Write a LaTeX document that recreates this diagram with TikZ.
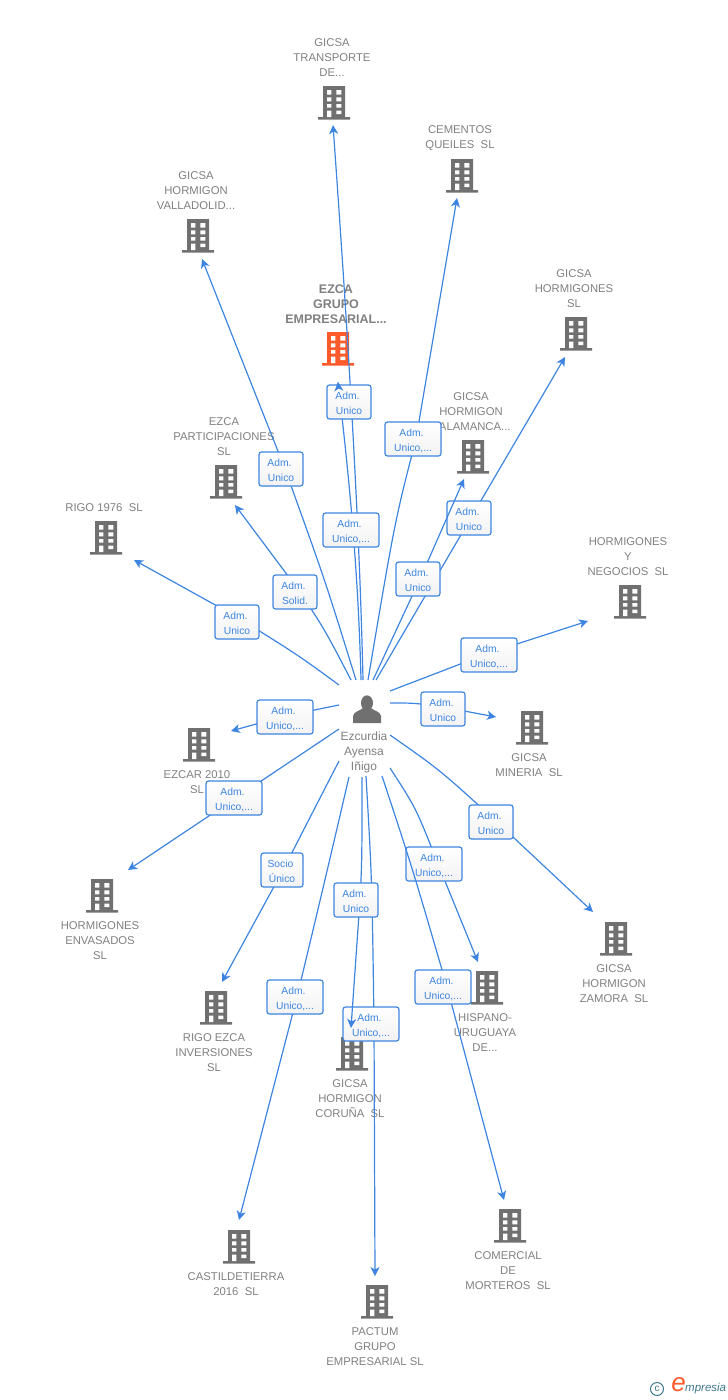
\documentclass[tikz,border=0pt]{standalone}
\usepackage{fontspec}
\setmainfont{Liberation Sans}
\usetikzlibrary{arrows.meta}
\definecolor{linkblue}{RGB}{61,133,224}
\definecolor{firmgray}{RGB}{128,128,128}
\definecolor{bldggray}{RGB}{112,112,112}
\definecolor{headorange}{RGB}{255,90,43}
\definecolor{logoteal}{RGB}{62,118,140}
\newcommand\rolelines[2]{\rule{0pt}{11pt}#1\kern3pt\\#2}
\tikzset{
  firm/.style={text=firmgray,align=center,inner sep=0pt,yshift=-1pt,font=\fontsize{11.3}{15}\selectfont},
  link/.style={linkblue,line width=1.2pt,-{Stealth[length=9pt,width=9pt,inset=2.5pt]}},
  role/.style={draw=linkblue,line width=1.2pt,rounded corners=2.5pt,top color=white,bottom color=black!5,
    text=linkblue,align=center,inner sep=0pt,minimum width=44pt,minimum height=34pt,
    font=\fontsize{10.3}{15}\selectfont},
  rolew/.style={role,minimum width=56pt},
  pics/bldg/.style={code={
    \fill[#1] (-11,-17) rectangle (11,15) (-16,14) rectangle (16,16.5);
    \fill[white] (-7,-13) rectangle (-2.7,-8.5) (2.3,-13) rectangle (7.3,-8.5)
                 (-7,-5.7) rectangle (-2.7,-1.7) (2.3,-5.7) rectangle (7.3,-1.7)
                 (-7,1) rectangle (-2.7,4.5) (2.3,1) rectangle (7.3,4.5)
                 (-7,7.5) rectangle (-2.7,14) (2.3,7.5) rectangle (7.3,11);
  }},
}
\begin{document}
\begin{tikzpicture}[x=1pt,y=-1pt]
  \useasboundingbox (0,0) rectangle (728,1400);

  % companies ------------------------------------------------------------------
  \node[firm] (transporte) at (332,57) {GICSA\\TRANSPORTE\\DE...};
  \pic at (334,103) {bldg=bldggray};
  \node[firm] (cementos) at (460,137.5) {CEMENTOS\\QUEILES\ \ SL};
  \pic at (462,176) {bldg=bldggray};
  \node[firm] (valladolid) at (196,190) {GICSA\\HORMIGON\\VALLADOLID...};
  \pic at (198,236) {bldg=bldggray};
  \node[firm,font=\fontsize{12.5}{15}\selectfont\bfseries] (ezcagrupo) at (336,303) {EZCA\\GRUPO\\EMPRESARIAL...};
  \pic at (338,349) {bldg=headorange};
  \node[firm] (hormigones) at (574,288) {GICSA\\HORMIGONES\\SL};
  \pic at (576,334) {bldg=bldggray};
  \node[firm] (salamanca) at (471,411) {GICSA\\HORMIGON\\SALAMANCA...};
  \pic at (473,457) {bldg=bldggray};
  \node[firm] (particip) at (224,436) {EZCA\\PARTICIPACIONES\\SL};
  \pic at (226,482) {bldg=bldggray};
  \node[firm] (rigo) at (104,507) {RIGO 1976\ \ SL};
  \pic at (106,538) {bldg=bldggray};
  \node[firm] (negocios) at (628,556) {HORMIGONES\\Y\\NEGOCIOS\ \ SL};
  \pic at (630,602) {bldg=bldggray};
  \node[firm] (mineria) at (529,764.5) {GICSA\\MINERIA\ \ SL};
  \pic at (532,728) {bldg=bldggray};
  \node[firm] (ezcar) at (197,781.5) {EZCAR 2010\\SL};
  \pic at (199,745) {bldg=bldggray};
  \node[firm] (envasados) at (100,940) {HORMIGONES\\ENVASADOS\\SL};
  \pic at (102,896) {bldg=bldggray};
  \node[firm] (zamora) at (614,983) {GICSA\\HORMIGON\\ZAMORA\ \ SL};
  \pic at (616,939) {bldg=bldggray};
  \node[firm] (rigoezca) at (214,1052) {RIGO EZCA\\INVERSIONES\\SL};
  \pic at (216,1008) {bldg=bldggray};
  \node[firm] (hispano) at (485,1032) {HISPANO-\\URUGUAYA\\DE...};
  \pic at (487,988) {bldg=bldggray};
  \node[firm] (coruna) at (350,1098) {GICSA\\HORMIGON\\CORUÑA\ \ SL};
  \pic at (352,1054) {bldg=bldggray};
  \node[firm] (castil) at (236,1283.5) {CASTILDETIERRA\\2016\ \ SL};
  \pic at (239,1247) {bldg=bldggray};
  \node[firm] (comercial) at (508,1270) {COMERCIAL\\DE\\MORTEROS\ \ SL};
  \pic at (510,1226) {bldg=bldggray};
  \node[firm] (pactum) at (375,1346) {PACTUM\\GRUPO\\EMPRESARIAL SL};
  \pic at (377,1302) {bldg=bldggray};

  % person ---------------------------------------------------------------------
  \node[firm,font=\fontsize{12}{15}\selectfont] (ego) at (364,751) {Ezcurdia\\Ayensa\\Iñigo};
  \fill[bldggray] (367,703) ellipse (6 and 7.7);
  \fill[bldggray] (353,723) -- (353,716) .. controls (354,711) and (360,711) .. (363,708)
    -- (371,708) .. controls (374,711) and (380,711) .. (381,716) -- (381,723) -- cycle;

  % tips -----------------------------------------------------------------------
  \coordinate (transporte tip) at (333,125);
  \coordinate (cementos tip) at (457,198);
  \coordinate (valladolid tip) at (202,259);
  \coordinate (ezcagrupo tip) at (338,382);
  \coordinate (hormigones tip) at (565,357);
  \coordinate (salamanca tip) at (464,479);
  \coordinate (particip tip) at (235,505);
  \coordinate (rigo tip) at (134,560);
  \coordinate (negocios tip) at (588,621);
  \coordinate (mineria tip) at (496,717);
  \coordinate (ezcar tip) at (231,731);
  \coordinate (envasados tip) at (128,870);
  \coordinate (zamora tip) at (593,912);
  \coordinate (rigoezca tip) at (222,982);
  \coordinate (hispano tip) at (478,962);
  \coordinate (coruna tip) at (351,1028);
  \coordinate (castil tip) at (239,1220);
  \coordinate (comercial tip) at (504,1200);
  \coordinate (pactum tip) at (375,1276);

  % connectors above the person ------------------------------------------------
  \draw[link] ([shift={(-1,-72)}]ego.center) .. controls (360,550) and (352,390) .. (transporte tip);
  \draw[link] ([shift={(-3,-72)}]ego.center) .. controls (358,560) and (347,460) .. (ezcagrupo tip);
  \node[rolew] (transporte role) at (351,530) {\rolelines{Adm.}{Unico,...}};
  \node[role] (ezcagrupo role) at (349,402) {\rolelines{Adm.}{Unico}};
  \draw[link] (338.6,388) -- (ezcagrupo tip);

  \draw[link] (413,439) node[rolew] (cementos role) {\rolelines{Adm.}{Unico,...}}
    ([shift={(4,-72)}]ego.center) .. controls (395,520) .. (416,439) -- (cementos tip);
  \draw[link] (281,469) node[role] (valladolid role) {\rolelines{Adm.}{Unico}}
    ([shift={(-8,-72)}]ego.center) .. controls (325,580) .. (285,469) -- (valladolid tip);
  \draw[link] (469,518) node[role] (hormigones role) {\rolelines{Adm.}{Unico}}
    ([shift={(12,-72)}]ego.center) -- (hormigones tip);
  \draw[link] (418,579) node[role] (salamanca role) {\rolelines{Adm.}{Unico}}
    ([shift={(9,-72)}]ego.center) -- (420,579) -- (salamanca tip);
  \draw[link] (295,592) node[role] (particip role) {\rolelines{Adm.}{Solid.}}
    ([shift={(-13,-72)}]ego.center) .. controls (325,630) .. (300,592) -- (particip tip);
  \draw[link] (237,622) node[role] (rigo role) {\rolelines{Adm.}{Unico}}
    ([shift={(-25,-67)}]ego.center) .. controls (298,655) .. (237,617) -- (rigo tip);

  % connectors beside the person -----------------------------------------------
  \draw[link] (489,655) node[rolew] (negocios role) {\rolelines{Adm.}{Unico,...}}
    ([shift={(26,-61)}]ego.center) -- (489,653) -- (negocios tip);
  \draw[link] (443,709) node[role] (mineria role) {\rolelines{Adm.}{Unico}}
    ([shift={(26,-49)}]ego.center) .. controls (415,703) .. (443,707) -- (mineria tip);
  \draw[link] (285,717) node[rolew] (ezcar role) {\rolelines{Adm.}{Unico,...}}
    ([shift={(-25,-47)}]ego.center) -- (285,716) -- (ezcar tip);

  % connectors below the person ------------------------------------------------
  \draw[link] (234,798) node[rolew] (envasados role) {\rolelines{Adm.}{Unico,...}}
    ([shift={(-25,-23)}]ego.center) -- (envasados tip);
  \draw[link] (491,822) node[role] (zamora role) {\rolelines{Adm.}{Unico}}
    ([shift={(26,-17)}]ego.center) .. controls (440,770) .. (497,822) -- (zamora tip);
  \draw[link] (282,870) node[role,minimum width=42pt] (rigoezca role) {\rolelines{Socio}{Único}}
    ([shift={(-25,9)}]ego.center) -- (283,870) -- (rigoezca tip);
  \draw[link] (434,864) node[rolew] (hispano role) {\rolelines{Adm.}{Unico,...}}
    ([shift={(26,16)}]ego.center) .. controls (416,808) .. (438,864) -- (hispano tip);
  \draw[link] (443,987) node[rolew] (comercial role) {\rolelines{Adm.}{Unico,...}}
    ([shift={(18,24)}]ego.center) .. controls (413,870) .. (447,987) -- (comercial tip);
  \draw[link] (295,997) node[rolew] (castil role) {\rolelines{Adm.}{Unico,...}}
    ([shift={(-15,25)}]ego.center) .. controls (325,880) .. (297,997) -- (castil tip);
  \draw[link] (371,1024) node[rolew] (pactum role) {\rolelines{Adm.}{Unico,...}}
    ([shift={(2,24)}]ego.center) .. controls (372,880) .. (374,1024) -- (pactum tip);
  \draw[link] ([shift={(-2,25)}]ego.center) .. controls (362,860) .. (360,900) -- (coruna tip);
  \node[role] (coruna role) at (356,900) {\rolelines{Adm.}{Unico}};

  % logo -----------------------------------------------------------------------
  \node[draw=logoteal,line width=1pt,circle,minimum size=13pt,inner sep=0pt,text=logoteal,
    font=\fontsize{10}{10}\selectfont] (logo mark) at (657,1389) {c};
  \node[inner sep=0pt,text=headorange,font=\itshape\fontsize{26}{26}\selectfont] (logo e) at (678.5,1385) {e};
  \node[inner sep=0pt,text=logoteal,anchor=west,font=\itshape\fontsize{11.5}{11.5}\selectfont] (logo name) at (685,1388.5) {mpresia};
\end{tikzpicture}
\end{document}
